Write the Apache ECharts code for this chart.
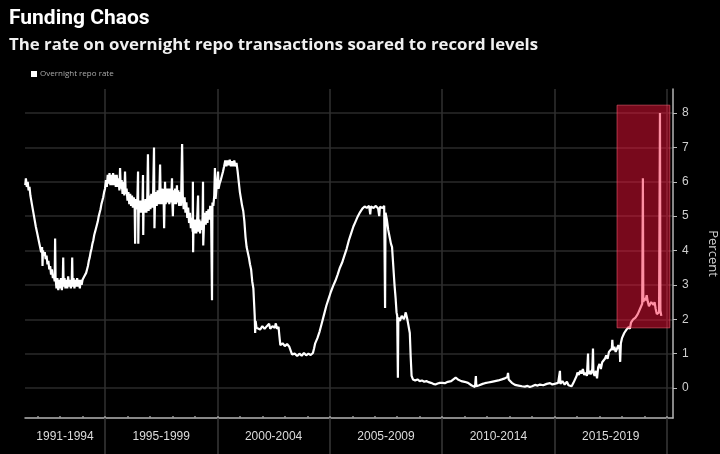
<!DOCTYPE html>
<html><head><meta charset="utf-8">
<script src="https://cdn.jsdelivr.net/npm/echarts@6/dist/echarts.min.js"></script>
<style>html,body{margin:0;padding:0;background:#000;}#c{width:720px;height:454px;}</style>
</head><body><div id="c"></div>
<script>
// ---- Data: overnight repo rate, [decimal year, percent] ----
const rate1991_1994 = [[1991.45,5.9],[1991.48,6.1],[1991.52,5.85],[1991.56,6.0],[1991.6,5.75],[1991.64,5.85],[1991.68,5.6],[1991.72,5.55],[1991.76,5.3],[1991.8,5.25],[1991.84,5.0],[1991.88,4.95],[1991.92,4.7],[1991.96,4.75],[1992.0,4.45],[1992.04,4.5],[1992.08,4.2],[1992.12,4.25],[1992.16,3.95],[1992.2,4.1],[1992.22,3.55],[1992.24,4.0],[1992.28,3.85],[1992.32,3.95],[1992.36,3.75],[1992.4,3.85],[1992.44,3.6],[1992.48,3.7],[1992.52,3.45],[1992.56,3.55],[1992.6,3.3],[1992.64,3.45],[1992.68,3.2],[1992.72,3.3],[1992.76,3.1],[1992.78,4.35],[1992.8,3.2],[1992.84,2.9],[1992.88,3.2],[1992.92,2.85],[1992.96,3.15],[1993.0,2.9],[1993.04,3.2],[1993.08,2.85],[1993.12,3.1],[1993.14,3.8],[1993.16,2.95],[1993.2,3.2],[1993.24,2.9],[1993.28,3.15],[1993.32,2.9],[1993.36,3.25],[1993.4,2.95],[1993.44,3.15],[1993.48,2.9],[1993.52,3.1],[1993.54,3.8],[1993.56,2.95],[1993.6,3.2],[1993.64,2.9],[1993.68,3.15],[1993.72,2.95],[1993.76,3.2],[1993.8,2.95],[1993.84,3.15],[1993.88,2.9],[1993.92,3.15],[1993.96,3.0],[1994.0,3.15],[1994.04,3.1],[1994.08,3.25],[1994.12,3.2],[1994.16,3.35],[1994.2,3.45],[1994.24,3.55],[1994.28,3.7],[1994.32,3.8],[1994.36,3.95],[1994.4,4.05],[1994.44,4.2],[1994.48,4.3],[1994.52,4.45],[1994.56,4.55],[1994.6,4.65],[1994.64,4.75],[1994.68,4.85],[1994.72,5.0],[1994.76,5.1],[1994.8,5.2],[1994.84,5.35],[1994.88,5.45],[1994.92,5.55],[1994.96,5.7]];
const rate1995_1999 = [[1995.0,5.8],[1995.04,6.05],[1995.08,5.85],[1995.12,6.2],[1995.16,5.95],[1995.2,6.25],[1995.24,5.9],[1995.28,6.2],[1995.32,5.9],[1995.36,6.25],[1995.4,5.9],[1995.44,6.2],[1995.48,5.85],[1995.52,6.2],[1995.56,5.85],[1995.6,6.1],[1995.64,5.75],[1995.67,6.4],[1995.7,5.8],[1995.74,6.05],[1995.78,5.65],[1995.82,6.0],[1995.86,5.6],[1995.89,6.3],[1995.92,5.65],[1995.96,5.8],[1996.0,5.45],[1996.04,5.7],[1996.08,5.35],[1996.12,5.65],[1996.16,5.3],[1996.2,5.6],[1996.24,5.25],[1996.28,5.55],[1996.32,5.25],[1996.34,4.2],[1996.36,5.5],[1996.4,5.2],[1996.44,5.5],[1996.47,6.3],[1996.48,4.2],[1996.5,5.1],[1996.54,5.45],[1996.58,5.1],[1996.62,5.45],[1996.66,5.1],[1996.69,6.2],[1996.7,4.45],[1996.72,5.45],[1996.76,5.1],[1996.8,5.5],[1996.84,5.1],[1996.88,5.55],[1996.91,6.8],[1996.94,5.15],[1996.98,5.6],[1997.02,5.2],[1997.06,5.65],[1997.1,5.25],[1997.14,5.65],[1997.18,7.0],[1997.2,4.65],[1997.22,5.3],[1997.26,5.7],[1997.3,5.3],[1997.34,5.75],[1997.38,5.35],[1997.42,5.75],[1997.45,6.5],[1997.48,5.35],[1997.52,5.8],[1997.56,5.35],[1997.6,5.8],[1997.63,4.65],[1997.65,5.4],[1997.67,6.0],[1997.7,5.35],[1997.74,5.8],[1997.78,5.4],[1997.82,5.8],[1997.86,5.35],[1997.9,5.8],[1997.94,5.4],[1997.98,6.1],[1998.0,5.35],[1998.02,5.0],[1998.04,5.75],[1998.08,5.35],[1998.12,5.8],[1998.16,5.35],[1998.2,5.9],[1998.22,5.4],[1998.26,5.75],[1998.3,5.3],[1998.34,5.7],[1998.38,5.3],[1998.43,7.1],[1998.46,5.6],[1998.5,5.2],[1998.54,5.55],[1998.58,5.1],[1998.62,5.4],[1998.66,4.95],[1998.7,5.25],[1998.74,4.8],[1998.78,5.1],[1998.82,4.65],[1998.86,4.95],[1998.9,4.55],[1998.91,6.0],[1998.92,3.95],[1998.94,4.9],[1998.98,4.5],[1999.02,4.9],[1999.06,4.5],[1999.1,4.9],[1999.14,5.6],[1999.16,4.55],[1999.2,4.9],[1999.23,4.5],[1999.26,4.85],[1999.3,4.6],[1999.34,4.95],[1999.36,6.0],[1999.37,4.15],[1999.4,4.7],[1999.44,5.1],[1999.48,4.75],[1999.52,5.15],[1999.56,4.8],[1999.6,5.2],[1999.64,4.9],[1999.68,5.3],[1999.72,5.05],[1999.76,2.55],[1999.78,5.4],[1999.82,5.3],[1999.86,5.6],[1999.89,6.4],[1999.92,5.5],[1999.96,5.8]];
const rate2000_2004 = [[2000.0,5.85],[2000.03,6.3],[2000.05,5.8],[2000.1,5.95],[2000.15,6.05],[2000.2,6.1],[2000.25,6.3],[2000.3,6.45],[2000.35,6.62],[2000.4,6.45],[2000.45,6.62],[2000.5,6.48],[2000.55,6.64],[2000.6,6.45],[2000.65,6.6],[2000.7,6.45],[2000.75,6.62],[2000.8,6.45],[2000.85,6.55],[2000.9,6.3],[2000.95,6.0],[2001.0,5.7],[2001.05,5.5],[2001.1,5.3],[2001.15,5.15],[2001.2,4.85],[2001.25,4.4],[2001.3,4.1],[2001.35,3.95],[2001.4,3.8],[2001.45,3.6],[2001.5,3.45],[2001.55,3.1],[2001.6,2.9],[2001.63,2.5],[2001.66,2.1],[2001.68,1.6],[2001.7,1.95],[2001.74,1.75],[2001.8,1.8],[2001.9,1.7],[2002.0,1.8],[2002.1,1.72],[2002.2,1.8],[2002.3,1.87],[2002.35,1.72],[2002.45,1.8],[2002.55,1.75],[2002.6,1.88],[2002.65,1.72],[2002.72,1.78],[2002.76,1.5],[2002.8,1.25],[2002.9,1.3],[2003.0,1.22],[2003.1,1.28],[2003.2,1.2],[2003.28,1.15],[2003.32,0.98],[2003.45,1.0],[2003.55,0.93],[2003.65,1.0],[2003.75,0.94],[2003.85,1.02],[2003.95,0.95],[2004.05,1.0],[2004.15,0.96],[2004.25,1.02],[2004.3,1.15],[2004.35,1.3],[2004.45,1.45],[2004.55,1.65],[2004.65,1.9],[2004.75,2.15],[2004.85,2.4],[2004.95,2.6]];
const rate2005_2009 = [[2005.05,2.8],[2005.15,2.97],[2005.25,3.12],[2005.35,3.3],[2005.45,3.5],[2005.55,3.65],[2005.65,3.85],[2005.75,4.05],[2005.85,4.3],[2005.95,4.5],[2006.05,4.7],[2006.15,4.85],[2006.25,5.0],[2006.35,5.12],[2006.45,5.22],[2006.55,5.28],[2006.65,5.24],[2006.75,5.3],[2006.8,5.05],[2006.83,5.28],[2006.95,5.24],[2007.05,5.3],[2007.15,5.22],[2007.2,5.0],[2007.23,5.27],[2007.35,5.24],[2007.42,5.3],[2007.46,2.33],[2007.48,5.1],[2007.54,4.9],[2007.6,4.6],[2007.66,4.4],[2007.72,4.2],[2007.77,4.1],[2007.82,3.6],[2007.88,3.0],[2007.93,2.6],[2007.97,2.2],[2008.0,2.1],[2008.03,0.3],[2008.05,2.05],[2008.12,1.95],[2008.2,2.1],[2008.3,2.0],[2008.38,2.2],[2008.45,2.0],[2008.52,2.05],[2008.56,1.6],[2008.6,0.9],[2008.64,0.35],[2008.7,0.25],[2008.8,0.22],[2008.9,0.25],[2009.0,0.2],[2009.1,0.22],[2009.2,0.18],[2009.3,0.2],[2009.4,0.17],[2009.5,0.15],[2009.6,0.12],[2009.7,0.1],[2009.8,0.13],[2009.9,0.15]];
const rate2010_2014 = [[2010.0,0.15],[2010.12,0.14],[2010.25,0.18],[2010.4,0.2],[2010.5,0.25],[2010.6,0.3],[2010.7,0.25],[2010.85,0.2],[2011.0,0.18],[2011.15,0.15],[2011.3,0.08],[2011.46,0.03],[2011.5,0.35],[2011.52,0.05],[2011.65,0.08],[2011.8,0.12],[2011.9,0.14],[2012.05,0.16],[2012.2,0.18],[2012.35,0.2],[2012.5,0.22],[2012.65,0.25],[2012.79,0.28],[2012.9,0.32],[2012.93,0.44],[2012.96,0.25],[2013.1,0.15],[2013.24,0.09],[2013.4,0.07],[2013.55,0.05],[2013.68,0.04],[2013.8,0.06],[2013.9,0.03],[2014.0,0.05],[2014.13,0.09],[2014.25,0.07],[2014.35,0.1],[2014.5,0.08],[2014.65,0.12],[2014.8,0.14],[2014.9,0.1]];
const rate2015_2019 = [[2015.0,0.12],[2015.08,0.08],[2015.16,0.15],[2015.22,0.1],[2015.24,0.5],[2015.26,0.12],[2015.35,0.2],[2015.45,0.1],[2015.55,0.18],[2015.62,0.08],[2015.69,0.12],[2015.76,0.05],[2015.84,0.15],[2015.92,0.12],[2015.98,0.35],[2016.02,0.45],[2016.08,0.38],[2016.14,0.5],[2016.2,0.42],[2016.26,0.55],[2016.32,0.38],[2016.38,0.45],[2016.44,0.35],[2016.49,1.0],[2016.51,0.4],[2016.56,0.5],[2016.62,0.4],[2016.68,0.55],[2016.71,1.15],[2016.73,0.45],[2016.78,0.35],[2016.84,0.5],[2016.89,0.28],[2016.94,0.6],[2017.0,0.7],[2017.06,0.55],[2017.12,0.75],[2017.18,0.7],[2017.24,0.85],[2017.3,0.95],[2017.36,0.85],[2017.42,1.05],[2017.48,1.0],[2017.55,1.15],[2017.57,1.4],[2017.6,1.1],[2017.66,1.2],[2017.72,1.05],[2017.78,1.15],[2017.84,1.25],[2017.9,1.1],[2017.92,0.76],[2017.95,1.3],[2018.0,1.45],[2018.05,1.4],[2018.1,1.6],[2018.15,1.55],[2018.2,1.7],[2018.25,1.65],[2018.3,1.78],[2018.35,1.72],[2018.4,1.9],[2018.45,1.85],[2018.5,2.0],[2018.55,1.95],[2018.6,2.05],[2018.65,2.0],[2018.7,2.15],[2018.75,2.2],[2018.8,2.3],[2018.85,2.25],[2018.9,2.45],[2018.93,6.1],[2018.95,2.5],[2019.0,2.62],[2019.05,2.55],[2019.1,2.7],[2019.15,2.5],[2019.2,2.38],[2019.25,2.35],[2019.3,2.5],[2019.35,2.55],[2019.4,2.42],[2019.45,2.5],[2019.5,2.3],[2019.55,2.15],[2019.6,2.1],[2019.65,2.2],[2019.69,8.0],[2019.71,2.25],[2019.75,2.1]];

// ---- Axis text / ranges ----
const periodLabels = ['1991-1994','1995-1999','2000-2004','2005-2009','2010-2014','2015-2019'];
const periodBounds = [1991.44, 1995, 2000, 2005, 2010, 2015, 2020];
const yearTicks = [1992,1993,1994,1995,1996,1997,1998,1999,2000,2001,2002,2003,2004,2005,2006,2007,2008,2009,2010,2011,2012,2013,2014,2015,2016,2017,2018,2019,2020];
const percentTicks = [0,1,2,3,4,5,6,7,8];
const xRange = [1991.44, 2020.27];
const yRange = [-0.873, 8.7];
// highlighted box: [startYear, lowRate, endYear, highRate]
const highlightBox = [2017.78, 1.75, 2020.13, 8.23];

const allRates = [].concat(rate1991_1994, rate1995_1999, rate2000_2004, rate2005_2009, rate2010_2014, rate2015_2019);
const separators = periodBounds.slice(1);
const labelPos = periodLabels.map((_, i) => (periodBounds[i] + periodBounds[i + 1]) / 2);

const chart = echarts.init(document.getElementById('c'), null, {renderer: 'canvas'});
chart.setOption({
  backgroundColor: '#000',
  animation: false,
  title: [
    {text: 'Funding Chaos', left: 9, top: 8, padding: 0,
     textStyle: {color: '#fff', fontSize: 21, fontWeight: 'bold', fontFamily: 'Roboto'}},
    {text: 'The rate on overnight repo transactions soared to record levels', left: 9, top: 37, padding: 0,
     textStyle: {color: '#f0f0f0', fontSize: 16.8, fontWeight: 'bold', fontFamily: 'Open Sans'}}
  ],
  legend: {
    data: ['Overnight repo rate'], left: 31, top: 70, padding: 0,
    icon: 'rect', itemWidth: 6, itemHeight: 6, itemGap: 3,
    textStyle: {color: '#aaa', fontSize: 8, fontFamily: 'Open Sans', padding: [0, 0, 0, -2]}
  },
  grid: {left: 25, right: 47, top: 89, bottom: 36, outerBoundsMode: 'none'},
  xAxis: [
    {
      type: 'value', min: xRange[0], max: xRange[1],
      axisLine: {show: true, onZero: false, lineStyle: {color: '#b5b5b5', width: 1.5}},
      axisTick: {show: true, customValues: separators, length: 36, lineStyle: {color: '#383838', width: 1.5}},
      splitLine: {show: true, lineStyle: {color: '#303030', width: 1.5}},
      axisLabel: {
        customValues: labelPos, margin: 13, color: '#dcdcdc', fontSize: 12, fontFamily: 'Liberation Sans',
        formatter: v => { const i = labelPos.findIndex(p => Math.abs(p - v) < 1e-6); return i >= 0 ? periodLabels[i] : ''; }
      }
    },
    {
      type: 'value', min: xRange[0], max: xRange[1], position: 'bottom',
      axisLine: {show: false, onZero: false},
      axisTick: {show: true, customValues: yearTicks, length: 2, inside: true, lineStyle: {color: '#999', width: 1.5}},
      axisLabel: {show: false},
      splitLine: {show: false}
    }
  ],
  yAxis: {
    type: 'value', position: 'right', min: yRange[0], max: yRange[1],
    axisLine: {show: true, onZero: false, lineStyle: {color: '#b5b5b5', width: 1.5}},
    axisTick: {show: true, customValues: percentTicks, length: 4, lineStyle: {color: '#bbb'}},
    axisLabel: {customValues: percentTicks, margin: 9, color: '#cfcfcf', fontSize: 12, fontFamily: 'Liberation Sans'},
    splitLine: {show: true, lineStyle: {color: '#2a2a2a', width: 1.5}},
    name: 'Percent', nameLocation: 'middle', nameRotate: -90, nameGap: 33,
    nameTextStyle: {color: '#cfcfcf', fontSize: 13, fontFamily: 'Open Sans'}
  },
  series: [
    {
      name: 'Overnight repo rate', type: 'line', xAxisIndex: 0, data: allRates,
      showSymbol: false, symbol: 'none', z: 3,
      lineStyle: {color: '#fff', width: 2.2}, itemStyle: {color: '#fff'}
    },
    {
      name: 'highlight', type: 'custom', xAxisIndex: 0, z: 8, silent: true,
      data: [highlightBox],
      encode: {x: [0, 2], y: [1, 3]},
      renderItem: (params, api) => {
        const p0 = api.coord([api.value(0), api.value(3)]);
        const p1 = api.coord([api.value(2), api.value(1)]);
        return {
          type: 'rect',
          shape: {x: p0[0], y: p0[1], width: p1[0] - p0[0], height: p1[1] - p0[1]},
          style: {fill: 'rgba(255,20,60,0.47)', stroke: 'rgba(255,100,120,0.55)', lineWidth: 1}
        };
      }
    }
  ]
});
</script></body></html>
